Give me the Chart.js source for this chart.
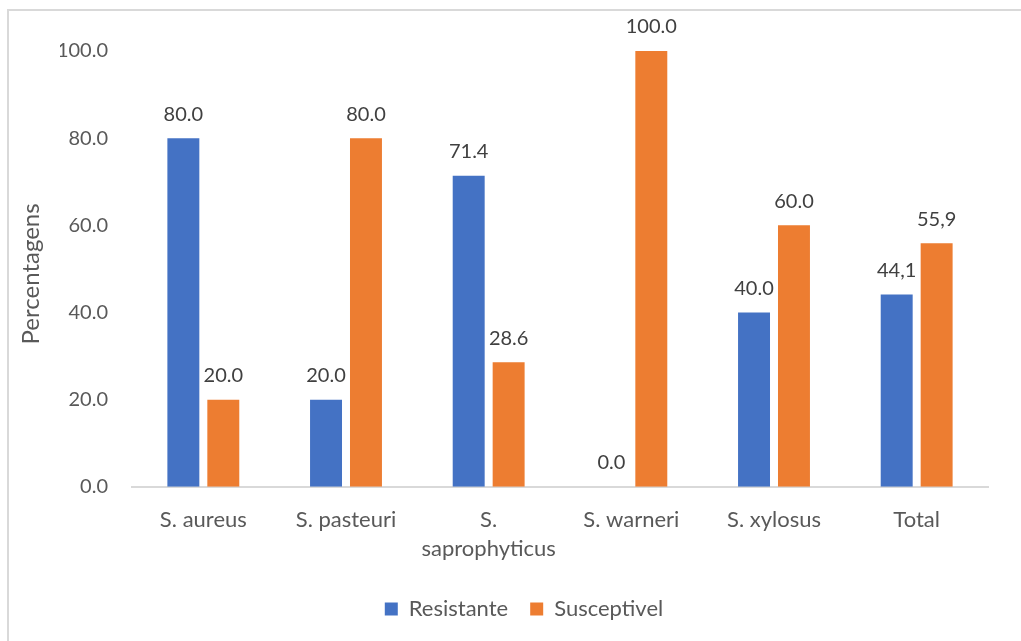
<!DOCTYPE html>
<html>
<head>
<meta charset="utf-8">
<script src="https://cdn.jsdelivr.net/npm/chart.js@4"></script>
<style>
  html, body { margin: 0; padding: 0; background: #ffffff; }
  #wrap { position: relative; width: 1021px; height: 641px; overflow: hidden; }
  #frame { position: absolute; left: 7px; top: 9px; width: 1100px; height: 700px;
           border: 2px solid #d9d9d9; box-sizing: border-box; }
  canvas { position: absolute; left: 0; top: 0; }
</style>
</head>
<body>
<div id="wrap">
  <div id="frame"></div>
  <canvas id="chart" width="1021" height="641"></canvas>
</div>
<script>
// Species and the share of resistant / susceptible isolates (%)
const categories = ['S. aureus', 'S. pasteuri', ['S.', 'saprophyticus'], 'S. warneri', 'S. xylosus', 'Total'];
const resistente = [80.0, 20.0, 71.4, 0.0, 40.0, 44.1];
const susceptivel = [20.0, 80.0, 28.6, 100.0, 60.0, 55.9];
const yTicks = [0, 20, 40, 60, 80, 100];
// the summary column is written with a decimal comma
const commaDecimal = [false, false, false, false, false, true];
const yTitle = 'Percentagens';

const FONT = 'Lato, "Liberation Sans", sans-serif';
const TEXT = '#595959';

// numbers above each bar
const valueLabels = {
  id: 'valueLabels',
  afterDatasetsDraw(chart) {
    const ctx = chart.ctx;
    ctx.save();
    ctx.font = '20px ' + FONT;
    ctx.fillStyle = '#404040';
    ctx.textAlign = 'center';
    ctx.textBaseline = 'bottom';
    chart.data.datasets.forEach((ds, di) => {
      const meta = chart.getDatasetMeta(di);
      meta.data.forEach((bar, i) => {
        let txt = ds.data[i].toFixed(1);
        if (commaDecimal[i]) txt = txt.replace('.', ',');
        ctx.fillText(txt, bar.x, bar.y - 14);
      });
    });
    ctx.restore();
  }
};

// vertical axis title, placed at the left edge of the frame
const axisTitle = {
  id: 'axisTitle',
  afterDraw(chart) {
    const ctx = chart.ctx;
    const a = chart.chartArea;
    ctx.save();
    ctx.font = '24px ' + FONT;
    ctx.fillStyle = TEXT;
    ctx.textAlign = 'center';
    ctx.textBaseline = 'middle';
    ctx.translate(31, (a.top + a.bottom) / 2 + 5);
    ctx.rotate(-Math.PI / 2);
    ctx.fillText(yTitle, 0, 0);
    ctx.restore();
  }
};

new Chart(document.getElementById('chart'), {
  type: 'bar',
  data: {
    labels: categories,
    datasets: [
      { label: 'Resistante', data: resistente, backgroundColor: '#4472C4',
        categoryPercentage: 0.56, barPercentage: 0.8 },
      { label: 'Susceptivel', data: susceptivel, backgroundColor: '#ED7D31',
        categoryPercentage: 0.56, barPercentage: 0.8 }
    ]
  },
  options: {
    responsive: false,
    animation: false,
    devicePixelRatio: 1,
    layout: { padding: { top: 51, right: 33, bottom: 11, left: 60 } },
    plugins: {
      legend: {
        position: 'bottom',
        labels: { font: { family: FONT, size: 22 }, color: TEXT, boxWidth: 13, boxHeight: 13,
                  padding: 22 }
      },
      tooltip: { enabled: false }
    },
    scales: {
      x: {
        afterFit(axis) { axis.height -= 6; },
        grid: { display: false, drawTicks: false },
        border: { display: true, color: '#d9d9d9', width: 2 },
        ticks: { font: { family: FONT, size: 22, lineHeight: 1.3 }, color: TEXT, padding: 19, maxRotation: 0 }
      },
      y: {
        min: 0, max: 100,
        afterBuildTicks(axis) { axis.ticks = yTicks.map(v => ({ value: v })); },
        afterFit(axis) { axis.width = 72; },
        grid: { display: false, drawTicks: false },
        border: { display: false },
        ticks: { font: { family: FONT, size: 20 }, color: TEXT, padding: 24,
                 callback: v => Number(v).toFixed(1) }
      }
    }
  },
  plugins: [valueLabels, axisTitle]
});
</script>
</body>
</html>
